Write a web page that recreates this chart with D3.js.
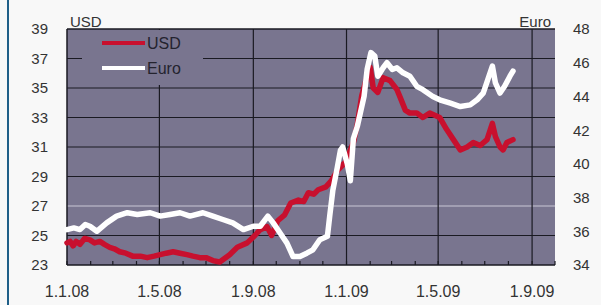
<!DOCTYPE html>
<html>
<head>
<meta charset="utf-8">
<script src="https://cdn.jsdelivr.net/npm/d3@7"></script>
<style>
  html, body { margin: 0; padding: 0; background: #f8f8f8; }
  svg { display: block; }
</style>
</head>
<body>
<div id="chart"></div>
<script>
// --- data
const usdDates = ['2008-01-01','2008-01-05','2008-01-09','2008-01-13','2008-01-18','2008-01-24','2008-01-31','2008-02-06','2008-02-13','2008-02-19','2008-02-26','2008-03-03','2008-03-10','2008-03-18','2008-03-27',
  '2008-04-06','2008-04-15','2008-04-24','2008-05-02','2008-05-10','2008-05-19','2008-05-28','2008-06-06','2008-06-14','2008-06-23','2008-07-01','2008-07-10','2008-07-19','2008-08-01','2008-08-11',
  '2008-08-24','2008-09-03','2008-09-10','2008-09-19','2008-09-25','2008-10-03','2008-10-12','2008-10-20','2008-10-30',
  '2008-11-06','2008-11-12','2008-11-19','2008-11-25','2008-12-05','2008-12-12','2008-12-20','2008-12-31','2009-01-10','2009-01-15','2009-01-21',
  '2009-01-28','2009-02-01','2009-02-05','2009-02-11','2009-02-18','2009-02-27','2009-03-08','2009-03-12','2009-03-19',
  '2009-03-25','2009-04-03','2009-04-11','2009-04-20','2009-05-03','2009-05-12','2009-05-21','2009-05-30','2009-06-08',
  '2009-06-16','2009-06-25','2009-07-04','2009-07-11','2009-07-15','2009-07-21','2009-07-25','2009-07-30','2009-08-07'];
const usdValues = [24.5,24.6,24.3,24.6,24.4,24.8,24.7,24.5,24.6,24.4,24.2,24.1,23.9,23.8,23.6,
  23.6,23.5,23.6,23.7,23.8,23.9,23.8,23.7,23.6,23.5,23.5,23.3,23.2,23.7,24.2,
  24.5,25.0,25.4,25.6,25.0,26.0,26.4,27.2,27.4,
  27.3,27.9,27.8,28.1,28.3,28.7,29.4,30.0,31.3,32.5,34.5,
  35.8,36.4,35.0,34.7,35.7,35.5,34.9,34.4,33.5,
  33.3,33.3,33.0,33.3,33.0,32.2,31.5,30.8,31.0,
  31.3,31.1,31.5,32.6,31.7,31.0,30.8,31.3,31.5];

const euroDates = ['2008-01-01','2008-01-10','2008-01-18','2008-01-25','2008-01-31','2008-02-09','2008-02-22','2008-03-06','2008-03-20','2008-04-02',
  '2008-04-19','2008-05-02','2008-05-15','2008-05-28','2008-06-10','2008-06-27','2008-07-10','2008-07-23','2008-08-05',
  '2008-08-19','2008-09-01','2008-09-10','2008-09-20','2008-09-27','2008-10-06','2008-10-15','2008-10-23','2008-11-01',
  '2008-11-10','2008-11-18','2008-11-27','2008-12-07','2008-12-10','2008-12-14','2008-12-20','2008-12-24','2008-12-27',
  '2009-01-02','2009-01-06','2009-01-10','2009-01-15','2009-01-19','2009-01-24','2009-01-28','2009-02-02','2009-02-07',
  '2009-02-11','2009-02-18','2009-02-23','2009-03-02','2009-03-08','2009-03-16','2009-03-25','2009-04-03','2009-04-11',
  '2009-04-24','2009-05-03','2009-05-17','2009-05-30','2009-06-12','2009-06-21','2009-06-29','2009-07-05','2009-07-11',
  '2009-07-15','2009-07-21','2009-07-27','2009-08-03','2009-08-07'];
const euroValues = [36.1,36.2,36.1,36.4,36.3,36.0,36.5,36.9,37.1,37.0,
  37.1,36.9,37.0,37.1,36.9,37.1,36.9,36.7,36.5,
  36.1,36.3,36.3,36.9,36.5,35.9,35.3,34.5,34.5,
  34.7,34.9,35.5,35.7,36.9,38.4,39.8,40.8,41.0,
  40.0,39.0,41.5,42.2,43.0,44.0,45.6,46.6,46.4,
  45.2,45.7,46.0,45.6,45.7,45.4,45.2,44.6,44.4,
  44.0,43.8,43.6,43.4,43.5,43.8,44.2,45.0,45.8,
  44.8,44.2,44.6,45.2,45.5];

const usdTicks = [23, 25, 27, 29, 31, 33, 35, 37, 39];
const euroTicks = [34, 36, 38, 40, 42, 44, 46, 48];
const xTickDates = ['2008-01-01','2008-05-01','2008-09-01','2009-01-01','2009-05-01','2009-09-01'];
const xTickLabels = ['1.1.08','1.5.08','1.9.08','1.1.09','1.5.09','1.9.09'];
const seriesNames = ['USD', 'Euro'];

// --- setup
const width = 601;
const height = 305;
const margin = { top: 29, right: 46, bottom: 40, left: 67 };
const parse = d3.utcParse('%Y-%m-%d');
const font = 'Arial, "Liberation Sans", sans-serif';
const textColor = '#333';
const usdColor = '#c8102e';
const euroColor = '#ffffff';
const plotBg = '#79758f';

const svg = d3.select('#chart')
  .append('svg')
  .attr('width', width)
  .attr('height', height);

// --- scales
const x = d3.scaleUtc()
  .domain([parse('2008-01-01'), parse('2009-10-01')])
  .range([margin.left, width - margin.right]);

const yLeft = d3.scaleLinear()
  .domain([23, 39])
  .range([height - margin.bottom, margin.top]);

const yRight = d3.scaleLinear()
  .domain([34, 48])
  .range([height - margin.bottom, margin.top]);

// left border stripe
svg.append('rect')
  .attr('x', 7).attr('y', 0)
  .attr('width', 2).attr('height', height)
  .attr('fill', '#1f5f88');

// --- plot background
svg.append('rect')
  .attr('x', x.range()[0])
  .attr('y', margin.top)
  .attr('width', x.range()[1] - x.range()[0])
  .attr('height', yLeft.range()[0] - margin.top)
  .attr('fill', plotBg);

// --- grid
const grid = svg.append('g');
grid.selectAll('.hgrid')
  .data(usdTicks.slice(1))
  .join('line')
    .attr('x1', x.range()[0])
    .attr('x2', x.range()[1])
    .attr('y1', d => yLeft(d))
    .attr('y2', d => yLeft(d))
    .attr('stroke', d => d === 27 ? '#c9c7d6' : '#1a1a22')
    .attr('stroke-width', 1.2);

grid.selectAll('.vgrid')
  .data(xTickDates.slice(1))
  .join('line')
    .attr('x1', d => x(parse(d)))
    .attr('x2', d => x(parse(d)))
    .attr('y1', margin.top)
    .attr('y2', yLeft.range()[0])
    .attr('stroke', '#1a1a22')
    .attr('stroke-width', 1.2);

// monthly minor ticks on the bottom
grid.selectAll('.mtick')
  .data(d3.utcMonth.range(parse('2008-01-01'), parse('2009-10-02')))
  .join('line')
    .attr('x1', d => x(d))
    .attr('x2', d => x(d))
    .attr('y1', yLeft.range()[0])
    .attr('y2', yLeft.range()[0] - 4)
    .attr('stroke', '#1a1a22')
    .attr('stroke-width', 1.2);

// axis frame lines
svg.append('line')
  .attr('x1', x.range()[0]).attr('x2', x.range()[1])
  .attr('y1', yLeft.range()[0]).attr('y2', yLeft.range()[0])
  .attr('stroke', '#1a1a22').attr('stroke-width', 1.5);
svg.append('line')
  .attr('x1', x.range()[0]).attr('x2', x.range()[0])
  .attr('y1', margin.top).attr('y2', yLeft.range()[0])
  .attr('stroke', '#1a1a22').attr('stroke-width', 1.5);
svg.append('line')
  .attr('x1', x.range()[0]).attr('x2', x.range()[1])
  .attr('y1', margin.top).attr('y2', margin.top)
  .attr('stroke', '#1a1a22').attr('stroke-width', 1);

// --- lines
const usdData = usdDates.map((d, i) => ({ date: parse(d), value: usdValues[i] }));
const euroData = euroDates.map((d, i) => ({ date: parse(d), value: euroValues[i] }));

const lineUsd = d3.line().x(d => x(d.date)).y(d => yLeft(d.value));
const lineEuro = d3.line().x(d => x(d.date)).y(d => yRight(d.value));

svg.append('path')
  .datum(usdData)
  .attr('d', lineUsd)
  .attr('fill', 'none')
  .attr('stroke', usdColor)
  .attr('stroke-width', 5.5)
  .attr('stroke-linejoin', 'round')
  .attr('stroke-linecap', 'round');

svg.append('path')
  .datum(euroData)
  .attr('d', lineEuro)
  .attr('fill', 'none')
  .attr('stroke', euroColor)
  .attr('stroke-width', 5.5)
  .attr('stroke-linejoin', 'round')
  .attr('stroke-linecap', 'round');

// --- legend (covers the grid)
const legend = svg.append('g');
legend.append('rect')
  .attr('x', 82).attr('y', margin.top + 1)
  .attr('width', 121).attr('height', 55)
  .attr('fill', plotBg);

legend.selectAll('.lg-line')
  .data(seriesNames)
  .join('line')
    .attr('x1', 102).attr('x2', 145)
    .attr('y1', (d, i) => 43 + i * 25)
    .attr('y2', (d, i) => 43 + i * 25)
    .attr('stroke', (d, i) => i === 0 ? usdColor : euroColor)
    .attr('stroke-width', 4);

legend.selectAll('.lg-text')
  .data(seriesNames)
  .join('text')
    .attr('x', 147)
    .attr('y', (d, i) => 43 + i * 25)
    .attr('dy', '0.36em')
    .attr('font-family', font)
    .attr('font-size', 16)
    .attr('fill', '#24232e')
    .text(d => d);

// --- axis labels
svg.append('g').selectAll('text')
  .data(usdTicks)
  .join('text')
    .attr('x', 48)
    .attr('y', d => yLeft(d))
    .attr('dy', '0.36em')
    .attr('text-anchor', 'end')
    .attr('font-family', font)
    .attr('font-size', 15)
    .attr('fill', textColor)
    .text(d => d);

svg.append('g').selectAll('text')
  .data(euroTicks)
  .join('text')
    .attr('x', 573)
    .attr('y', d => yRight(d))
    .attr('dy', '0.36em')
    .attr('font-family', font)
    .attr('font-size', 15)
    .attr('fill', textColor)
    .text(d => d);

svg.append('g').selectAll('text')
  .data(xTickDates)
  .join('text')
    .attr('x', d => x(parse(d)))
    .attr('y', 297)
    .attr('text-anchor', 'middle')
    .attr('font-family', font)
    .attr('font-size', 16)
    .attr('fill', textColor)
    .text((d, i) => xTickLabels[i]);

// unit titles
svg.append('text')
  .attr('x', 70).attr('y', 27)
  .attr('font-family', font).attr('font-size', 15).attr('fill', textColor)
  .text('USD');
svg.append('text')
  .attr('x', 551).attr('y', 27)
  .attr('text-anchor', 'end')
  .attr('font-family', font).attr('font-size', 15).attr('fill', textColor)
  .text('Euro');
</script>
</body>
</html>
